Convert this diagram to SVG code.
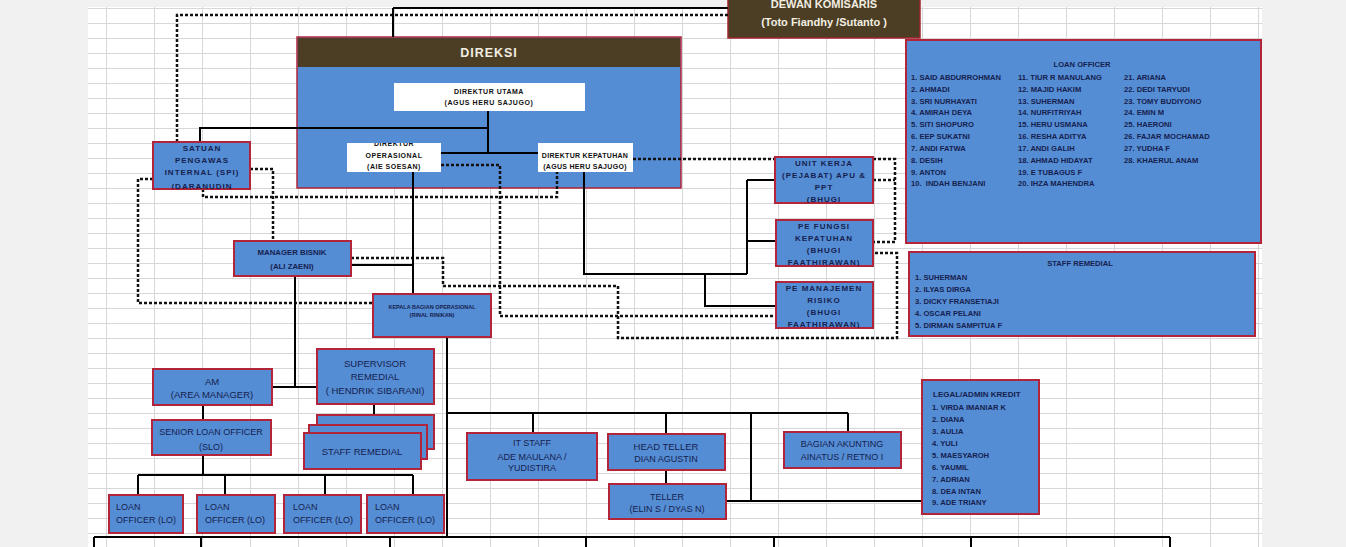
<svg xmlns="http://www.w3.org/2000/svg" width="1346" height="547" viewBox="0 0 1346 547">
<defs>
<style>
.box{fill:#548dd4;stroke:#b1243a;stroke-width:2}
.wbox{fill:#ffffff;stroke:none}
.brown{fill:#4b3e25;stroke:#a3262f;stroke-width:1.5}
.ln{stroke:#000;stroke-width:2;fill:none}
.dot{stroke:#111;stroke-width:2.5;stroke-dasharray:3 2;fill:none}
text{font-family:"Liberation Sans",Arial,sans-serif;fill:#16214f}
.c{text-anchor:middle}
.b{font-weight:bold}
.s7{font-size:7px}
.s8{font-size:8px}
.s9{font-size:9px}
.s95{font-size:9.5px}
.lst{font-size:7.6px;font-weight:bold}
.blk{fill:#111}
.wh{fill:#f3eee2}
.sp{font-weight:bold;font-size:8px;letter-spacing:1px}
</style>
<pattern id="grid" x="106" y="8" width="48" height="15" patternUnits="userSpaceOnUse">
<path d="M0 0.5H48M0.5 0V15" stroke="#d7d7d7" stroke-width="1" fill="none"/>
</pattern>
<clipPath id="cOp"><rect x="347" y="143" width="94" height="29"/></clipPath>
<clipPath id="cSpi"><rect x="153" y="142" width="97" height="47"/></clipPath>
<clipPath id="cUk"><rect x="775" y="157" width="98" height="46"/></clipPath>
<clipPath id="cPf"><rect x="776" y="220" width="97" height="46"/></clipPath>
<clipPath id="cPm"><rect x="776" y="282" width="97" height="46"/></clipPath>
</defs>
<rect x="0" y="0" width="1346" height="547" fill="#f1f1f1"/>
<rect x="88" y="7" width="1174" height="540" fill="#ffffff"/>
<rect x="88" y="7" width="1174" height="540" fill="url(#grid)"/>

<g id="dewan-komisaris">
<rect class="brown" x="728" y="-2" width="192" height="40"/>
<text class="c b wh" x="824" y="8" font-size="11">DEWAN KOMISARIS</text>
<text class="c b wh" x="824" y="26" font-size="11">(Toto Fiandhy /Sutanto )</text>
</g>

<g id="direksi">
<rect x="297" y="37" width="384" height="151" fill="#548dd4" stroke="#b1243a" stroke-width="1.5"/>
<rect x="298" y="38" width="382" height="29" fill="#4b3e25"/>
<text class="c b wh" x="489" y="57" font-size="12.5" letter-spacing="1">DIREKSI</text>
</g>

<g id="direktur-utama">
<rect class="wbox" x="394" y="83" width="191" height="28"/>
<text class="c b s7 blk" x="489" y="94" letter-spacing="0.5">DIREKTUR UTAMA</text>
<text class="c b s7 blk" x="489" y="105" letter-spacing="0.6">(AGUS HERU SAJUGO)</text>
</g>

<g id="direktur-operasional">
<rect class="wbox" x="347" y="143" width="94" height="29"/>
<g clip-path="url(#cOp)">
<text class="c b s7 blk" x="394" y="146" letter-spacing="0.5">DIREKTUR</text>
<text class="c b s7 blk" x="394" y="158" letter-spacing="0.5">OPERASIONAL</text>
<text class="c b s7 blk" x="394" y="169" letter-spacing="0.5">(AIE SOESAN)</text>
</g>
</g>

<g id="direktur-kepatuhan">
<rect class="wbox" x="538" y="143" width="95" height="29"/>
<text class="c b s7 blk" x="585" y="158" letter-spacing="0.3">DIREKTUR KEPATUHAN</text>
<text class="c b s7 blk" x="585" y="169" letter-spacing="0.3">(AGUS HERU SAJUGO)</text>
</g>

<g id="connectors">
<path class="dot" d="M177 142V15H728"/>
<path class="dot" d="M153 179H138V303H373"/>
<path class="dot" d="M250 169H273V241"/>
<path class="dot" d="M203 189V197H557V172"/>
<path class="dot" d="M441 165H500V316H776"/>
<path class="dot" d="M351 258H443V286H618V338H897V253H873"/>
<path class="dot" d="M633 159H775M873 159H895V242H873M873 180H895"/>
<path class="ln" d="M393 8V37M393 8H728"/>
<path class="ln" d="M488 111V153M441 153H538M488 128H200V142"/>
<path class="ln" d="M413 172V294M351 265H413"/>
<path class="ln" d="M584 172V274H747M747 180V274M747 180H775M747 241H776M705 274V306H776"/>
<path class="ln" d="M295 276V387M272 387H317"/>
<path class="ln" d="M203 405V420M203 455V475M138 475H413M138 475V495M225 475V495M325 475V495M413 475V495"/>
<path class="ln" d="M374 404V415"/>
<path class="ln" d="M447 337V537M447 413H848M533 413V433M666 413V434M751 413V501M848 413V432M666 470V484M726 501H922"/>
<path class="ln" d="M94 537H1170M94 537V547M201 537V547M390 537V547M586 537V547M774 537V547M971 537V547M1170 537V547"/>
</g>

<g id="spi">
<rect class="box" x="153" y="142" width="97" height="47"/>
<g clip-path="url(#cSpi)">
<text class="c sp" x="202" y="151">SATUAN</text>
<text class="c sp" x="202" y="163">PENGAWAS</text>
<text class="c sp" x="202" y="175">INTERNAL (SPI)</text>
<text class="c sp" x="202" y="189">(DARANUDIN</text>
</g>
</g>

<g id="manager-bisnik">
<rect class="box" x="234" y="241" width="117" height="35"/>
<text class="c b" x="292" y="255" font-size="7.8">MANAGER BISNIK</text>
<text class="c b" x="292" y="269" font-size="7.8">(ALI ZAENI)</text>
</g>

<g id="kepala-bagian-operasional">
<rect class="box" x="373" y="294" width="118" height="43"/>
<text class="c b" x="432" y="309" font-size="5.5">KEPALA BAGIAN OPERASIONAL</text>
<text class="c b" x="432" y="317" font-size="5.5">(RINAL RINIKAN)</text>
</g>

<g id="unit-kerja">
<rect class="box" x="775" y="157" width="98" height="46"/>
<g clip-path="url(#cUk)">
<text class="c sp" x="824" y="166">UNIT KERJA</text>
<text class="c sp" x="824" y="178" letter-spacing="0.9">(PEJABAT) APU &amp;</text>
<text class="c sp" x="824" y="190">PPT</text>
<text class="c sp" x="824" y="202">(BHUGI</text>
</g>
</g>

<g id="pe-fungsi-kepatuhan">
<rect class="box" x="776" y="220" width="97" height="46"/>
<g clip-path="url(#cPf)">
<text class="c sp" x="824" y="229" letter-spacing="1.6">PE FUNGSI</text>
<text class="c sp" x="824" y="241" letter-spacing="1.2">KEPATUHAN</text>
<text class="c sp" x="824" y="253">(BHUGI</text>
<text class="c sp" x="824" y="265" letter-spacing="0.8">FAATHIRAWAN)</text>
</g>
</g>

<g id="pe-manajemen-risiko">
<rect class="box" x="776" y="282" width="97" height="46"/>
<g clip-path="url(#cPm)">
<text class="c sp" x="824" y="291" letter-spacing="1.1">PE MANAJEMEN</text>
<text class="c sp" x="824" y="303">RISIKO</text>
<text class="c sp" x="824" y="315">(BHUGI</text>
<text class="c sp" x="824" y="327" letter-spacing="0.8">FAATHIRAWAN)</text>
</g>
</g>

<g id="am">
<rect class="box" x="153" y="369" width="119" height="36"/>
<text class="c s95" x="212" y="385">AM</text>
<text class="c s95" x="212" y="398">(AREA MANAGER)</text>
</g>

<g id="supervisor-remedial">
<rect class="box" x="317" y="349" width="117" height="55"/>
<text class="c s95" x="375" y="367">SUPERVISOR</text>
<text class="c s95" x="375" y="380">REMEDIAL</text>
<text class="c s95" x="375" y="394">( HENDRIK SIBARANI)</text>
</g>

<g id="staff-remedial-stack">
<rect class="box" x="317" y="415" width="117" height="34"/>
<rect class="box" x="309" y="425" width="118" height="34"/>
<rect class="box" x="304" y="433" width="117" height="36"/>
<text class="c s95" x="362" y="455">STAFF REMEDIAL</text>
</g>

<g id="slo">
<rect class="box" x="152" y="420" width="119" height="35"/>
<text class="c s9" x="211" y="435">SENIOR LOAN OFFICER</text>
<text class="c s9" x="211" y="450">(SLO)</text>
</g>

<g id="lo-1">
<rect class="box" x="109" y="495" width="74" height="38"/>
<text class="s9" x="116" y="510">LOAN</text>
<text class="s9" x="116" y="523">OFFICER (LO)</text>
</g>
<g id="lo-2">
<rect class="box" x="197" y="495" width="78" height="38"/>
<text class="s9" x="205" y="510">LOAN</text>
<text class="s9" x="205" y="523">OFFICER (LO)</text>
</g>
<g id="lo-3">
<rect class="box" x="284" y="495" width="77" height="38"/>
<text class="s9" x="293" y="510">LOAN</text>
<text class="s9" x="293" y="523">OFFICER (LO)</text>
</g>
<g id="lo-4">
<rect class="box" x="367" y="495" width="77" height="38"/>
<text class="s9" x="375" y="510">LOAN</text>
<text class="s9" x="375" y="523">OFFICER (LO)</text>
</g>

<g id="it-staff">
<rect class="box" x="467" y="433" width="130" height="47"/>
<text class="c s9" x="532" y="446">IT STAFF</text>
<text class="c s9" x="532" y="460">ADE MAULANA /</text>
<text class="c s9" x="532" y="471">YUDISTIRA</text>
</g>

<g id="head-teller">
<rect class="box" x="608" y="434" width="117" height="36"/>
<text class="c s95" x="666" y="450">HEAD TELLER</text>
<text class="c s9" x="666" y="462">DIAN AGUSTIN</text>
</g>

<g id="teller">
<rect class="box" x="609" y="484" width="117" height="35"/>
<text class="c s9" x="667" y="500">TELLER</text>
<text class="c s9" x="667" y="512">(ELIN S / DYAS N)</text>
</g>

<g id="bagian-akunting">
<rect class="box" x="784" y="432" width="117" height="36"/>
<text class="c s9" x="842" y="447">BAGIAN  AKUNTING</text>
<text class="c s9" x="842" y="460">AINATUS / RETNO I</text>
</g>

<g id="legal-admin-kredit">
<rect class="box" x="922" y="380" width="117" height="134"/>
<text class="b" x="933" y="397" font-size="8">LEGAL/ADMIN KREDIT</text>
<text class="lst" x="932" y="410">1. VIRDA IMANIAR K</text>
<text class="lst" x="932" y="422">2. DIANA</text>
<text class="lst" x="932" y="434">3. AULIA</text>
<text class="lst" x="932" y="446">4. YULI</text>
<text class="lst" x="932" y="458">5. MAESYAROH</text>
<text class="lst" x="932" y="470">6. YAUMIL</text>
<text class="lst" x="932" y="482">7. ADRIAN</text>
<text class="lst" x="932" y="494">8. DEA INTAN</text>
<text class="lst" x="932" y="505">9. ADE TRIANY</text>
</g>

<g id="loan-officer-list">
<rect class="box" x="906" y="40" width="355" height="203"/>
<text class="c lst" x="1082" y="67">LOAN OFFICER</text>
<text class="lst" x="911" y="80">1. SAID ABDURROHMAN</text>
<text class="lst" x="911" y="92">2. AHMADI</text>
<text class="lst" x="911" y="104">3. SRI NURHAYATI</text>
<text class="lst" x="911" y="115">4. AMIRAH DEYA</text>
<text class="lst" x="911" y="127">5. SITI SHOPURO</text>
<text class="lst" x="911" y="139">6. EEP SUKATNI</text>
<text class="lst" x="911" y="151">7. ANDI FATWA</text>
<text class="lst" x="911" y="163">8. DESIH</text>
<text class="lst" x="911" y="175">9. ANTON</text>
<text class="lst" x="911" y="186" xml:space="preserve">10.  INDAH BENJANI</text>
<text class="lst" x="1018" y="80">11. TIUR R MANULANG</text>
<text class="lst" x="1018" y="92">12. MAJID HAKIM</text>
<text class="lst" x="1018" y="104">13. SUHERMAN</text>
<text class="lst" x="1018" y="115">14. NURFITRIYAH</text>
<text class="lst" x="1018" y="127">15. HERU USMANA</text>
<text class="lst" x="1018" y="139">16. RESHA ADITYA</text>
<text class="lst" x="1018" y="151">17. ANDI GALIH</text>
<text class="lst" x="1018" y="163">18. AHMAD HIDAYAT</text>
<text class="lst" x="1018" y="175">19. E TUBAGUS F</text>
<text class="lst" x="1018" y="186">20. IHZA MAHENDRA</text>
<text class="lst" x="1124" y="80">21. ARIANA</text>
<text class="lst" x="1124" y="92">22. DEDI TARYUDI</text>
<text class="lst" x="1124" y="104">23. TOMY BUDIYONO</text>
<text class="lst" x="1124" y="115">24. EMIN M</text>
<text class="lst" x="1124" y="127">25. HAERONI</text>
<text class="lst" x="1124" y="139">26. FAJAR MOCHAMAD</text>
<text class="lst" x="1124" y="151">27. YUDHA F</text>
<text class="lst" x="1124" y="163">28. KHAERUL ANAM</text>
</g>

<g id="staff-remedial-list">
<rect class="box" x="909" y="252" width="346" height="84"/>
<text class="c lst" x="1080" y="266">STAFF REMEDIAL</text>
<text class="lst" x="915" y="280" font-size="7.4">1. SUHERMAN</text>
<text class="lst" x="915" y="292" font-size="7.4">2. ILYAS DIRGA</text>
<text class="lst" x="915" y="304" font-size="7.4">3. DICKY FRANSETIAJI</text>
<text class="lst" x="915" y="316" font-size="7.4">4. OSCAR PELANI</text>
<text class="lst" x="915" y="328" font-size="7.4">5. DIRMAN SAMPITUA F</text>
</g>
</svg>
